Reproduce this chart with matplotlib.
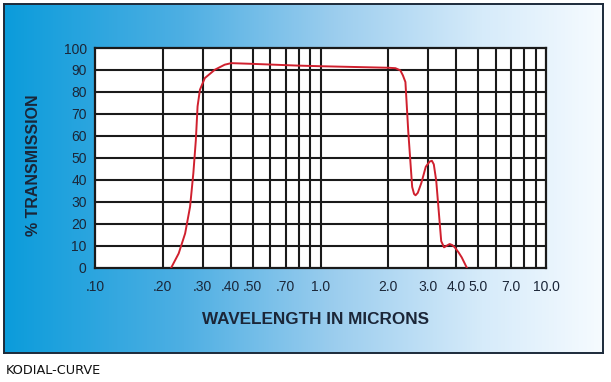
import numpy as np
import matplotlib
matplotlib.use("Agg")
import matplotlib.pyplot as plt
from matplotlib.colors import LinearSegmentedColormap

# ---------------------------------------------------------------------------
# Data (wavelength in microns, % transmission)
# ---------------------------------------------------------------------------
wavelength = [0.218, 0.235, 0.251, 0.264, 0.273, 0.280, 0.285, 0.292, 0.307,
              0.340, 0.376, 0.402, 0.491, 0.785, 1.0, 2.0, 2.15, 2.26, 2.32,
              2.38, 2.45, 2.55, 2.60, 2.64, 2.70, 2.80, 2.93, 3.05, 3.12,
              3.18, 3.26, 3.43, 3.53, 3.64, 3.74, 3.84, 3.94, 4.10, 4.23,
              4.45]
transmission = [0.0, 6.4, 15.5, 27.7, 43.0, 58.0, 73.4, 81.0, 86.3,
                90.1, 92.4, 93.1, 92.8, 92.0, 91.7, 91.0, 90.8, 89.8, 87.5,
                84.5, 62.0, 36.7, 33.5, 32.9, 34.0, 38.5, 45.9, 48.3, 48.6,
                47.0, 39.5, 12.0, 9.2, 10.0, 10.7, 10.2, 9.2, 6.8, 4.6,
                0.0]

x_major = [0.1, 0.2, 0.3, 0.4, 0.5, 0.7, 1.0, 2.0, 3.0, 4.0, 5.0, 7.0, 10.0]
x_major_labels = [".10", ".20", ".30", ".40", ".50", ".70", "1.0", "2.0",
                  "3.0", "4.0", "5.0", "7.0", "10.0"]
x_grid = [0.2, 0.3, 0.4, 0.5, 0.6, 0.7, 0.8, 0.9, 1.0,
          2.0, 3.0, 4.0, 5.0, 6.0, 7.0, 8.0, 9.0]
y_ticks = list(range(0, 101, 10))

TEXT = "#1b2638"
GRID = "#1a1a1a"

fig = plt.figure(figsize=(6.11, 3.82), dpi=100)
fig.patch.set_facecolor("white")

# gradient panel behind the chart
bg = fig.add_axes([3.5 / 611, 1 - 353 / 382, 599 / 611, 349.5 / 382])
cmap = LinearSegmentedColormap.from_list(
    "panel",
    [(0.0, "#0b9cdb"), (0.3, "#4eafe3"), (0.55, "#9bcdee"),
     (0.8, "#d6ebfa"), (1.0, "#f6fbff")],
)
bg.imshow(np.linspace(0, 1, 256)[None, :], aspect="auto", cmap=cmap,
          extent=[0, 1, 0, 1])
bg.set_xlim(0, 1)
bg.set_ylim(0, 1)
bg.set_xticks([])
bg.set_yticks([])
for s in bg.spines.values():
    s.set_color("#1c2a3a")
    s.set_linewidth(1.4)

ax = fig.add_axes([95 / 611, 1 - 267.5 / 382, 451 / 611, 219.5 / 382])
ax.set_facecolor("white")
ax.set_xscale("log")
ax.set_xlim(0.1, 10)
ax.set_ylim(0, 100)

for xv in x_grid:
    ax.axvline(xv, color=GRID, lw=1.5, zorder=1)
for yv in y_ticks[1:-1]:
    ax.axhline(yv, color=GRID, lw=1.5, zorder=1)

ax.plot(wavelength, transmission, color="#d0202e", lw=1.4, zorder=3,
        solid_joinstyle="round")

ax.set_xticks(x_major)
ax.set_xticklabels(x_major_labels)
ax.xaxis.set_minor_locator(matplotlib.ticker.NullLocator())
ax.set_yticks(y_ticks)
ax.tick_params(axis="both", length=0, labelsize=10, labelcolor=TEXT)
ax.tick_params(axis="x", pad=9)
ax.tick_params(axis="y", pad=6)
for s in ax.spines.values():
    s.set_color(GRID)
    s.set_linewidth(1.6)

fig.text(315 / 611, 1 - 319 / 382, "WAVELENGTH IN MICRONS", ha="center",
         va="center", fontsize=12.3, fontweight="bold", color=TEXT,
         family="Liberation Sans")
fig.text(34 / 611, 1 - 165 / 382, "% TRANSMISSION", ha="center",
         va="center", rotation=90, fontsize=11.5, fontweight="bold",
         color=TEXT, family="Liberation Sans")
for lbl in ax.get_xticklabels() + ax.get_yticklabels():
    lbl.set_family("Liberation Sans")

fig.text(6 / 611, 1 - 370 / 382, "KODIAL-CURVE", ha="left", va="center",
         fontsize=9.3, color="#111111", family="DejaVu Sans")

fig.savefig("out.png", dpi=100)
